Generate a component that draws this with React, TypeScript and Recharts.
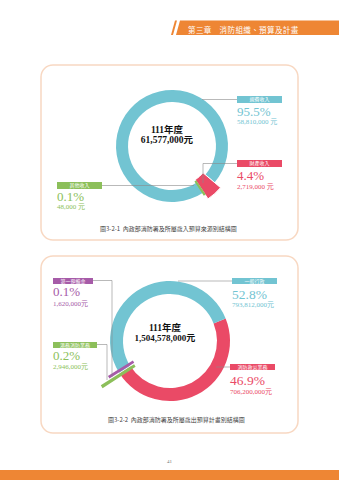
import { PieChart, Pie, Cell } from "recharts";

// 歲入 (income) by source
const INCOME_NAMES = ["規費收入", "財產收入", "其他收入"];
const INCOME_VALUES = [58810000, 2719000, 48000];
const INCOME_PCT = ["95.5%", "4.4%", "0.1%"];
const INCOME_COLORS = ["#72c4d2", "#ea4a66", "#8cbf5a"];
const INCOME_TOTAL = 61577000;

// 歲出 (spending) by program, clockwise from the red slice
const SPEND_NAMES = ["消防救災業務", "港務消防業務", "第一預備金", "一般行政"];
const SPEND_VALUES = [706200000, 2946000, 1620000, 793812000];
const SPEND_PCT = ["46.9%", "0.2%", "0.1%", "52.8%"];
const SPEND_COLORS = ["#ea4a66", "#8cbf5a", "#a65ba8", "#72c4d2"];
const SPEND_TOTAL = 1504578000;

const YEAR_LABEL = "111年度";
const HEADER = "第三章　消防組織、預算及計畫";
const CAPTION_1 = "圖3-2-1  內政部消防署及所屬歲入預算來源別結構圖";
const CAPTION_2 = "圖3-2-2  內政部消防署及所屬歲出預算計畫別結構圖";
const PAGE_NO = "41";

const SERIF = '"Liberation Serif", "DejaVu Serif", "Noto Sans CJK TC", serif';
const CJK = '"Noto Sans CJK TC", sans-serif';
const ORANGE = "#ee8634";
const LINE = "#8a8a8a";

type Row = { name: string; value: number };

const toRows = (names: string[], values: number[]): Row[] =>
  names.map((name, i) => ({ name, value: values[i] }));

const money = (v: number, sep: string) => v.toLocaleString("en-US") + sep + "元";

// angle (deg) at the middle of slice idx, pie drawn clockwise from start
function midAngle(values: number[], idx: number, start: number) {
  const total = values.reduce((a, b) => a + b, 0);
  const before = values.slice(0, idx).reduce((a, b) => a + b, 0);
  return start - (360 * (before + values[idx] / 2)) / total;
}

// move a centre along the slice direction (radial) and across it (tangential)
function shift(cx: number, cy: number, angle: number, radial: number, tangential = 0) {
  const r = (angle * Math.PI) / 180;
  return {
    cx: cx + radial * Math.cos(r) - tangential * Math.sin(r),
    cy: cy - radial * Math.sin(r) - tangential * Math.cos(r),
  };
}

interface LayerOpts {
  cx: number;
  cy: number;
  inner: number;
  outer: number;
  start: number;
  stroke?: string;
  strokeWidth?: number;
}

// one Pie that only paints the slices listed in `paint`
function layer(key: string, rows: Row[], colors: string[], paint: number[], o: LayerOpts) {
  return (
    <Pie
      key={key}
      data={rows}
      dataKey="value"
      nameKey="name"
      cx={o.cx}
      cy={o.cy}
      innerRadius={o.inner}
      outerRadius={o.outer}
      startAngle={o.start}
      endAngle={o.start - 360}
      isAnimationActive={false}
      legendType="none"
      stroke="none"
    >
      {rows.map((r, i) =>
        paint.includes(i) ? (
          <Cell
            key={r.name}
            fill={colors[i]}
            stroke={o.stroke ?? colors[i]}
            strokeWidth={o.strokeWidth ?? 0}
          />
        ) : (
          <Cell key={r.name} fill="none" stroke="none" />
        )
      )}
    </Pie>
  );
}

function Tag({ x, y, w, color, text }: { x: number; y: number; w: number; color: string; text: string }) {
  return (
    <div
      style={{
        position: "absolute",
        left: x,
        top: y,
        width: w,
        height: 6.5,
        background: color,
        color: "#fff",
        fontFamily: CJK,
        fontSize: 5,
        lineHeight: "6.5px",
        textAlign: "center",
      }}
    >
      {text}
    </div>
  );
}

function Txt({ x, y, size, color, text, bold }: { x: number; y: number; size: number; color: string; text: string; bold?: boolean }) {
  return (
    <div
      style={{
        position: "absolute",
        left: x,
        top: y,
        fontFamily: SERIF,
        fontSize: size,
        lineHeight: 1,
        color,
        fontWeight: bold ? 700 : 400,
        whiteSpace: "nowrap",
      }}
    >
      {text}
    </div>
  );
}

function Centered({ cx, y, size, text }: { cx: number; y: number; size: number; text: string }) {
  return (
    <div
      style={{
        position: "absolute",
        left: cx - 60,
        width: 120,
        top: y,
        textAlign: "center",
        fontFamily: SERIF,
        fontWeight: 700,
        fontSize: size,
        lineHeight: 1,
        color: "#111",
      }}
    >
      {text}
    </div>
  );
}

export default function App() {
  const incomeRows = toRows(INCOME_NAMES, INCOME_VALUES);
  const spendRows = toRows(SPEND_NAMES, SPEND_VALUES);

  // chart 1 geometry
  const c1 = { cx: 167, cy: 141 };
  const s1 = -56.4;
  const redMid1 = midAngle(INCOME_VALUES, 1, s1);
  const greenMid1 = midAngle(INCOME_VALUES, 2, s1);
  const red1 = shift(c1.cx, c1.cy, redMid1, 3);
  const green1 = shift(c1.cx, c1.cy, greenMid1, 1);

  // chart 2 geometry
  const c2 = { cx: 165, cy: 336 };
  const s2 = 22;
  const greenMid2 = midAngle(SPEND_VALUES, 1, s2);
  const purpleMid2 = midAngle(SPEND_VALUES, 2, s2);
  const green2 = shift(c2.cx, c2.cy, greenMid2, 3, 1.6);
  const purple2 = shift(c2.cx, c2.cy, purpleMid2, 2, -2);

  return (
    <div
      style={{
        position: "absolute",
        left: 0,
        top: 0,
        width: 339,
        height: 480,
        overflow: "hidden",
        background: "#fff",
      }}
    >
      {/* header band, footer bar and the two frames */}
      <svg width={339} height={480} style={{ position: "absolute", left: 0, top: 0 }}>
        <polygon points="171,35 175,20.5 177,20.5 173,35" fill={ORANGE} />
        <polygon points="176,35 180,20.5 339,20.5 339,35" fill={ORANGE} />
        <rect x={0} y={470} width={339} height={10} fill={ORANGE} />
        <rect x={41} y={65} width={257} height={175} rx={12} fill="#fff" stroke="#f8d8c2" strokeWidth={1.5} />
        <rect x={41} y={256} width={257} height={177} rx={12} fill="#fff" stroke="#f8d8c2" strokeWidth={1.5} />
      </svg>
      <div
        style={{
          position: "absolute",
          left: 188,
          top: 26,
          fontFamily: CJK,
          fontSize: 7.5,
          letterSpacing: 0.4,
          lineHeight: 1,
          color: "#fff",
          whiteSpace: "nowrap",
        }}
      >
        {HEADER}
      </div>

      <div style={{ position: "absolute", left: 0, top: 0 }}>
        <PieChart width={339} height={480}>
          {layer("inc-base", incomeRows, INCOME_COLORS, [0], { ...c1, inner: 44, outer: 56, start: s1 })}
          {layer("inc-red", incomeRows, INCOME_COLORS, [1], {
            ...red1,
            inner: 38,
            outer: 61,
            start: s1,
            stroke: "#fff",
            strokeWidth: 1,
          })}
          {layer("inc-green", incomeRows, INCOME_COLORS, [2], {
            ...green1,
            inner: 42,
            outer: 57,
            start: s1,
            strokeWidth: 2,
          })}

          {layer("sp-base", spendRows, SPEND_COLORS, [0, 3], { ...c2, inner: 47, outer: 60, start: s2 })}
          {layer("sp-green", spendRows, SPEND_COLORS, [1], {
            ...green2,
            inner: 41,
            outer: 78,
            start: s2,
            strokeWidth: 2.4,
          })}
          {layer("sp-purple", spendRows, SPEND_COLORS, [2], {
            ...purple2,
            inner: 41,
            outer: 68,
            start: s2,
            strokeWidth: 2.4,
          })}
        </PieChart>
      </div>

      {/* leader lines */}
      <svg width={339} height={480} style={{ position: "absolute", left: 0, top: 0, pointerEvents: "none" }}>
        <g fill="none" stroke={LINE} strokeWidth={0.6}>
          <polyline points="202,99.5 237,99.5" />
          <polyline points="203,183 203,163.5 237,163.5" />
          <polyline points="102,185.5 194,185.5" />
          <polyline points="178,281 232,281" />
          <polyline points="216,367 230,367" />
          <polyline points="93,280.5 112,280.5 112,377" />
          <polyline points="97,344.5 107,344.5 107,380" />
        </g>
      </svg>

      {/* chart 1 labels */}
      <Centered cx={c1.cx} y={126} size={9.5} text={YEAR_LABEL} />
      <Centered cx={c1.cx} y={136} size={9.5} text={money(INCOME_TOTAL, "")} />

      <Tag x={237} y={96} w={45} color={INCOME_COLORS[0]} text={INCOME_NAMES[0]} />
      <Txt x={237} y={105} size={13} color={INCOME_COLORS[0]} text={INCOME_PCT[0]} />
      <Txt x={237} y={119} size={7} color={INCOME_COLORS[0]} text={money(INCOME_VALUES[0], " ")} />

      <Tag x={237} y={160} w={45} color={INCOME_COLORS[1]} text={INCOME_NAMES[1]} />
      <Txt x={237} y={168.5} size={13} color={INCOME_COLORS[1]} text={INCOME_PCT[1]} />
      <Txt x={237} y={183.5} size={7} color={INCOME_COLORS[1]} text={money(INCOME_VALUES[1], " ")} />

      <Tag x={57} y={182} w={45} color={INCOME_COLORS[2]} text={INCOME_NAMES[2]} />
      <Txt x={57} y={189.5} size={13} color={INCOME_COLORS[2]} text={INCOME_PCT[2]} />
      <Txt x={57} y={203.5} size={7} color={INCOME_COLORS[2]} text={money(INCOME_VALUES[2], " ")} />

      <div
        style={{ position: "absolute", left: 100, top: 226, fontFamily: CJK, fontSize: 6, lineHeight: 1, color: "#444", whiteSpace: "pre" }}
      >
        {CAPTION_1}
      </div>

      {/* chart 2 labels */}
      <Centered cx={c2.cx} y={324} size={9.5} text={YEAR_LABEL} />
      <Centered cx={c2.cx} y={334} size={9} text={money(SPEND_TOTAL, "")} />

      <Tag x={53} y={277.5} w={40} color={SPEND_COLORS[2]} text={SPEND_NAMES[2]} />
      <Txt x={53} y={284.5} size={13} color={SPEND_COLORS[2]} text={SPEND_PCT[2]} />
      <Txt x={53} y={300.5} size={7} color={SPEND_COLORS[2]} text={money(SPEND_VALUES[2], "")} />

      <Tag x={53} y={341.5} w={44} color={SPEND_COLORS[1]} text={SPEND_NAMES[1]} />
      <Txt x={53} y={348.5} size={13} color={SPEND_COLORS[1]} text={SPEND_PCT[1]} />
      <Txt x={53} y={363.5} size={7} color={SPEND_COLORS[1]} text={money(SPEND_VALUES[1], "")} />

      <Tag x={232} y={277.5} w={45} color={SPEND_COLORS[3]} text={SPEND_NAMES[3]} />
      <Txt x={232} y={287.5} size={13.5} color={SPEND_COLORS[3]} text={SPEND_PCT[3]} />
      <Txt x={232} y={301.5} size={7} color={SPEND_COLORS[3]} text={money(SPEND_VALUES[3], "")} />

      <Tag x={230} y={363.5} w={45} color={SPEND_COLORS[0]} text={SPEND_NAMES[0]} />
      <Txt x={230} y={373.5} size={13.5} color={SPEND_COLORS[0]} text={SPEND_PCT[0]} />
      <Txt x={230} y={388.5} size={7} color={SPEND_COLORS[0]} text={money(SPEND_VALUES[0], "")} />

      <div
        style={{ position: "absolute", left: 108, top: 417, fontFamily: CJK, fontSize: 6, lineHeight: 1, color: "#444", whiteSpace: "pre" }}
      >
        {CAPTION_2}
      </div>

      <div
        style={{ position: "absolute", left: 0, width: 339, top: 459, textAlign: "center", fontFamily: SERIF, fontSize: 5, lineHeight: 1, color: "#777" }}
      >
        {PAGE_NO}
      </div>
    </div>
  );
}
